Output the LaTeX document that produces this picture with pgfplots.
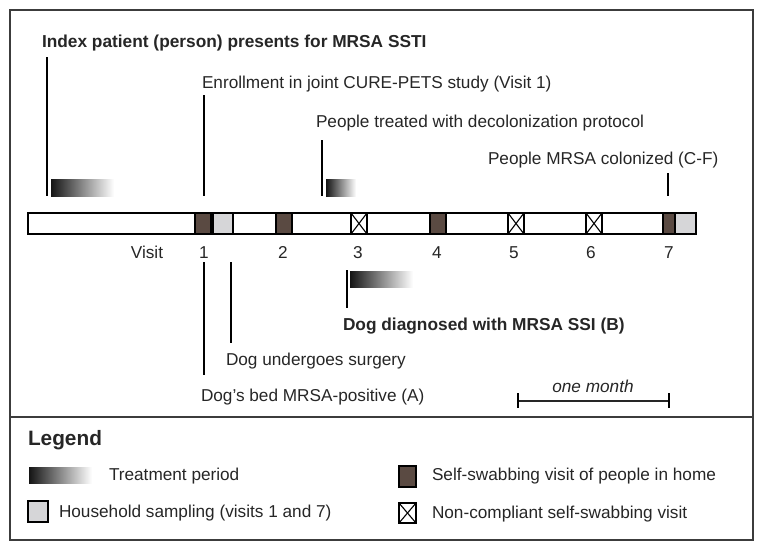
\documentclass[border=0pt]{standalone}
\usepackage{pgfplots}
\pgfplotsset{compat=1.18}
\usepackage{fontspec}
\setmainfont{Liberation Sans}
\definecolor{brownbox}{RGB}{90,74,66}
\definecolor{greybox}{RGB}{214,214,216}
\definecolor{framec}{RGB}{60,60,60}
\tikzset{lab/.style={font=\fontsize{17.2}{20}\selectfont, text=black!85, inner sep=0pt, outer sep=0pt},
  blab/.style={lab, font=\fontsize{17.3}{20}\selectfont\bfseries}}
\newcommand{\rect}[5][]{\addplot[#1] coordinates {(#2,#3)(#4,#3)(#4,#5)(#2,#5)} -- cycle;}
\newcommand{\xbox}[4]{%
  \rect[draw=black, fill=white, line width=1.3pt]{#1}{#2}{#3}{#4}
  \addplot[black, line width=1.1pt] coordinates {(#1,#2)(#3,#4)};
  \addplot[black, line width=1.1pt] coordinates {(#1,#4)(#3,#2)};}
\newcommand{\grad}[4]{\rect[draw=none, left color=black!92, right color=white]{#1}{#2}{#3}{#4}}
\newcommand{\vln}[3]{\addplot[black, line width=1.4pt] coordinates {(#1,#2)(#1,#3)};}
\begin{document}
\begin{tikzpicture}
\begin{axis}[scale only axis, width=764pt, height=550pt,
  xmin=0, xmax=764, ymin=0, ymax=550, y dir=reverse,
  hide axis, clip=false, no markers]
% bounding box
\addplot[draw=none] coordinates {(0,0)(764,550)};
% frame and divider
\rect[draw=framec, line width=1.8pt, line join=miter]{10}{10}{753}{540}
\addplot[framec, line width=1.2pt] coordinates {(10,417)(753,417)};
% timeline bar
\rect[draw=black, fill=white, line width=1.4pt]{28}{213}{696}{234}
\rect[draw=black, fill=brownbox, line width=1.3pt]{195}{213}{211}{234}
\rect[draw=black, fill=greybox, line width=1.3pt]{213}{213}{233}{234}
\rect[draw=black, fill=brownbox, line width=1.3pt]{276}{213}{292}{234}
\xbox{351}{213}{367}{234}
\rect[draw=black, fill=brownbox, line width=1.3pt]{430}{213}{446}{234}
\xbox{508}{213}{524}{234}
\xbox{586}{213}{602}{234}
\rect[draw=black, fill=greybox, line width=1.3pt]{675}{213}{696}{234}
\rect[draw=black, fill=brownbox, line width=1.3pt]{663}{213}{675}{234}
% visit labels
\node[lab, anchor=base] at (axis cs:147,258) {Visit};
\node[lab, anchor=base] at (axis cs:204,258) {1};
\node[lab, anchor=base] at (axis cs:283,258) {2};
\node[lab, anchor=base] at (axis cs:358,258) {3};
\node[lab, anchor=base] at (axis cs:437,258) {4};
\node[lab, anchor=base] at (axis cs:514,258) {5};
\node[lab, anchor=base] at (axis cs:591,258) {6};
\node[lab, anchor=base] at (axis cs:669,258) {7};
% upper events
\vln{47}{57}{196}
\vln{204}{95}{196}
\vln{322}{140}{196}
\vln{668}{173}{196}
\grad{51}{179}{114}{196}
\grad{326}{179}{356}{196}
\node[blab, anchor=base west] at (axis cs:42,47) {Index patient (person) presents for MRSA SSTI};
\node[lab, anchor=base west] at (axis cs:202,88) {Enrollment in joint CURE-PETS study (Visit 1)};
\node[lab, anchor=base west] at (axis cs:316,127) {People treated with decolonization protocol};
\node[lab, anchor=base west] at (axis cs:488,164) {People MRSA colonized (C-F)};
% lower events
\vln{204}{262}{375}
\vln{231}{262}{343}
\vln{347}{270}{308}
\grad{350}{271}{413}{287}
\node[blab, anchor=base west] at (axis cs:343,330) {Dog diagnosed with MRSA SSI (B)};
\node[lab, anchor=base west] at (axis cs:226,365) {Dog undergoes surgery};
\node[lab, anchor=base west] at (axis cs:201,401) {Dog's bed MRSA-positive (A)};
% scale bar
\addplot[black!85, line width=1.4pt] coordinates {(518,401)(669,401)};
\vln{518}{393}{408}
\vln{669}{393}{408}
\node[lab, anchor=base, font=\fontsize{17.2}{20}\selectfont\itshape] at (axis cs:593,392) {one month};
% legend
\node[lab, anchor=base west, font=\fontsize{20.8}{24}\selectfont\bfseries] at (axis cs:28,445) {Legend};
\grad{29}{467}{92}{483}
\node[lab, anchor=base west] at (axis cs:109,480) {Treatment period};
\rect[draw=black, fill=greybox, line width=1.3pt]{28}{501}{48}{522}
\node[lab, anchor=base west] at (axis cs:59,517) {Household sampling (visits 1 and 7)};
\rect[draw=black, fill=brownbox, line width=1.3pt]{399}{466}{416}{487}
\node[lab, anchor=base west] at (axis cs:432,480) {Self-swabbing visit of people in home};
\xbox{399}{503}{416}{523}
\node[lab, anchor=base west] at (axis cs:432,518) {Non-compliant self-swabbing visit};
\end{axis}
\end{tikzpicture}
\end{document}
